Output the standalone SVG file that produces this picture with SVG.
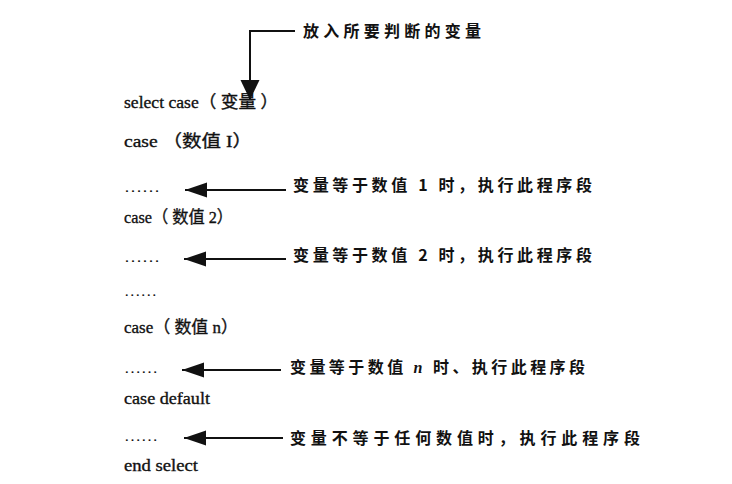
<svg xmlns="http://www.w3.org/2000/svg" width="732" height="484" viewBox="0 0 732 484">
<style>
.code{font-family:"Liberation Serif","Noto Sans CJK SC",serif;font-size:17px;fill:#111;stroke:#111;stroke-width:0.35}
.lbl{font-family:"Noto Sans CJK SC","Liberation Serif",sans-serif;font-size:16px;font-weight:600;fill:#111}
.dots{font-family:"Liberation Serif",serif;font-size:14px;fill:#111}
.wire{fill:none;stroke:#111;stroke-width:2}
</style>
<defs>
<marker id="ah" markerUnits="userSpaceOnUse" markerWidth="24" markerHeight="16" refX="22" refY="7.5" orient="auto">
<path d="M0,0 L22,7.5 L0,15 Z" fill="#111"/>
</marker>
<marker id="ahv" markerUnits="userSpaceOnUse" markerWidth="22" markerHeight="20" refX="20" refY="9.5" orient="auto">
<path d="M0,0 L20,9.5 L0,19 Z" fill="#111"/>
</marker>
</defs>
<rect width="732" height="484" fill="#fff"/>
<g id="connectors">
<path class="wire" d="M295,31 H250 V100" stroke-width="2.5" marker-end="url(#ahv)"/>
<path class="wire" d="M286,190 H185" marker-end="url(#ah)"/>
<path class="wire" d="M286,259 H184" marker-end="url(#ah)"/>
<path class="wire" d="M281,370 H182" marker-end="url(#ah)"/>
<path class="wire" d="M283,438 H184" marker-end="url(#ah)"/>
</g>
<g id="code">
<text id="n-select" class="code" x="124" y="108" textLength="154" lengthAdjust="spacingAndGlyphs">select case（ 变量 ）</text>
<text id="n-case1" class="code" x="124" y="147" textLength="128" lengthAdjust="spacingAndGlyphs">case （数值 I）</text>
<text id="n-dots1" class="dots" x="124" y="192" textLength="36" lengthAdjust="spacingAndGlyphs">……</text>
<text id="n-case2" class="code" x="124" y="223" textLength="109" lengthAdjust="spacingAndGlyphs">case（ 数值 2）</text>
<text id="n-dots2" class="dots" x="124" y="262" textLength="36" lengthAdjust="spacingAndGlyphs">……</text>
<text id="n-dots3" class="dots" x="124" y="296" textLength="33" lengthAdjust="spacingAndGlyphs" font-size="11">……</text>
<text id="n-casen" class="code" x="124" y="333" textLength="114" lengthAdjust="spacingAndGlyphs">case（ 数值 n）</text>
<text id="n-dots4" class="dots" x="124" y="373" textLength="34" lengthAdjust="spacingAndGlyphs">……</text>
<text id="n-default" class="code" x="124" y="404" textLength="86" lengthAdjust="spacingAndGlyphs">case default</text>
<text id="n-dots5" class="dots" x="124" y="441" textLength="34" lengthAdjust="spacingAndGlyphs">……</text>
<text id="n-end" class="code" x="124" y="471" textLength="74" lengthAdjust="spacingAndGlyphs">end select</text>
</g>
<g id="labels">
<text id="l-top" class="lbl" x="303" y="37" textLength="178" lengthAdjust="spacing">放入所要判断的变量</text>
<text id="l-1" class="lbl" x="293" y="191" textLength="299" lengthAdjust="spacing">变量等于数值 1 时，执行此程序段</text>
<text id="l-2" class="lbl" x="293" y="261" textLength="299" lengthAdjust="spacing">变量等于数值 2 时，执行此程序段</text>
<text id="l-n" class="lbl" x="290" y="373" textLength="295" lengthAdjust="spacing">变量等于数值 <tspan font-family="Liberation Serif" font-style="italic">n</tspan> 时、执行此程序段</text>
<text id="l-d" class="lbl" x="290" y="444" textLength="350" lengthAdjust="spacing">变量不等于任何数值时，执行此程序段</text>
</g>
</svg>
